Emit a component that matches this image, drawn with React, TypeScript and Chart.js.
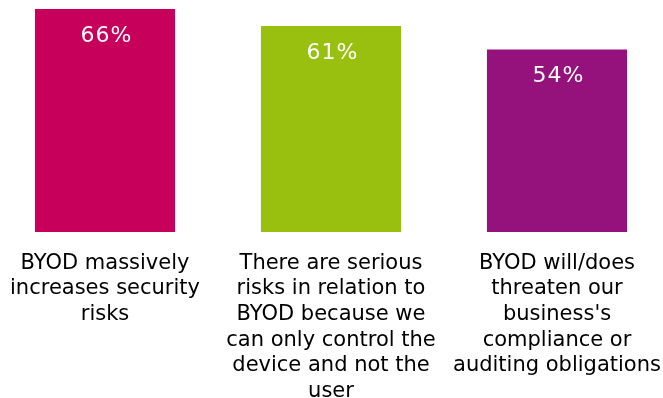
import React, { useEffect, useRef } from "react";
import { Chart, registerables } from "chart.js";

Chart.register(...registerables);

const categories: string[][] = [
  ["BYOD massively", "increases security", "risks"],
  ["There are serious", "risks in relation to", "BYOD because we", "can only control the", "device and not the", "user"],
  ["BYOD will/does", "threaten our", "business's", "compliance or", "auditing obligations"],
];
const values: number[] = [66, 61, 54];
const barColors: string[] = ["#C6005B", "#99C00F", "#95117C"];

const FONT = "'DejaVu Sans', Verdana, sans-serif";

const valueLabelPlugin = {
  id: "valueLabels",
  afterDatasetsDraw(chart: any) {
    const ctx = chart.ctx;
    const meta = chart.getDatasetMeta(0);
    ctx.save();
    ctx.fillStyle = "#FFFFFF";
    ctx.font = `22px ${FONT}`;
    try { (ctx as any).letterSpacing = "1px"; } catch (e) {}
    ctx.textAlign = "center";
    ctx.textBaseline = "middle";
    meta.data.forEach((bar: any, i: number) => {
      ctx.fillText(`${values[i]}%`, bar.x + 1.5, bar.y + 27);
    });
    ctx.restore();
  },
};

export default function App() {
  const ref = useRef<HTMLCanvasElement | null>(null);
  useEffect(() => {
    if (!ref.current) return;
    const chart = new Chart(ref.current, {
      type: "bar",
      data: {
        labels: categories,
        datasets: [
          {
            data: values,
            backgroundColor: barColors,
            borderWidth: 0,
            categoryPercentage: 1,
            barPercentage: 0.62,
            clip: false,
          } as any,
        ],
      },
      options: {
        animation: false,
        responsive: false,
        maintainAspectRatio: false,
        layout: { padding: { left: 105, right: 106, top: 9, bottom: 0 } },
        plugins: { legend: { display: false }, tooltip: { enabled: false } },
        scales: {
          x: {
            offset: false,
            grid: { display: false, drawTicks: false },
            border: { display: false },
            ticks: {
              padding: 18.5,
              color: "#000000",
              font: { family: FONT, size: 21, lineHeight: 1.22 },
              maxRotation: 0,
              minRotation: 0,
              autoSkip: false,
            },
            afterFit(scale: any) {
              scale.height = 166;
              scale.paddingLeft = 0;
              scale.paddingRight = 0;
            },
          },
          y: { display: false, min: 0, max: 66 },
        },
      },
      plugins: [valueLabelPlugin],
    });
    return () => chart.destroy();
  }, []);
  return (
    <div style={{ position: "fixed", left: 0, top: 0, width: 663, height: 398, background: "#fff" }}>
      <canvas ref={ref} width={663} height={398} style={{ width: 663, height: 398 }} />
    </div>
  );
}
